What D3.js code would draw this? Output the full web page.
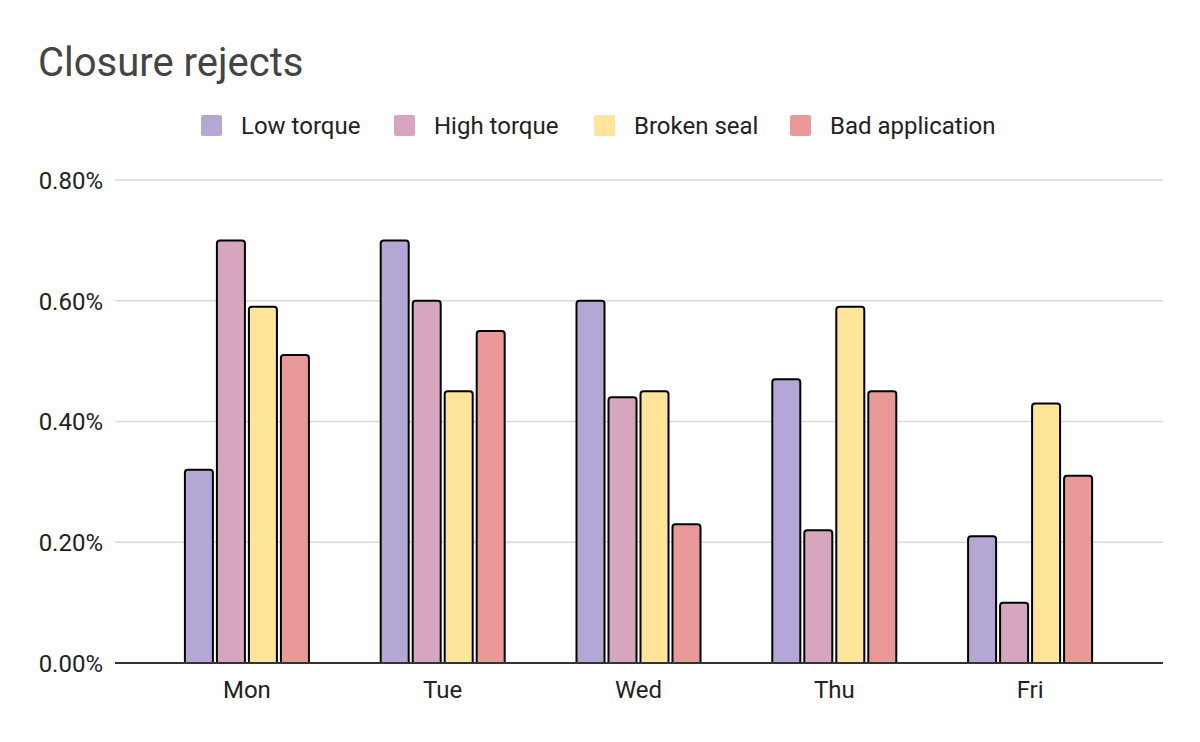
<!DOCTYPE html>
<html><head><meta charset="utf-8">
<script src="https://cdn.jsdelivr.net/npm/d3@7"></script>
<style>body{margin:0;background:#fff}svg{display:block}text{font-family:Roboto,"Noto Sans",sans-serif}</style>
</head><body>
<svg id="c" width="1200" height="742"></svg>
<script>
const categories = ["Mon","Tue","Wed","Thu","Fri"];
const seriesNames = ["Low torque","High torque","Broken seal","Bad application"];
const lowTorque = [0.32,0.70,0.60,0.47,0.21];
const highTorque = [0.70,0.60,0.44,0.22,0.10];
const brokenSeal = [0.59,0.45,0.45,0.59,0.43];
const badApplication = [0.51,0.55,0.23,0.45,0.31];
const colors = ["#b4a7d6","#d5a6bd","#ffe599","#ea9999"];
const yTicks = [0,0.2,0.4,0.6,0.8];
const seriesValues = [lowTorque, highTorque, brokenSeal, badApplication];

const svg = d3.select("#c");
const plotL = 115, plotR = 1163;
const y = d3.scaleLinear().domain([0,0.8]).range([663,180]);
const x0 = d3.scaleBand().domain(categories).range([149,1128]).padding(0);
const x1 = d3.scaleBand().domain(seriesNames).range([-63,63]).paddingInner(0.0625).paddingOuter(0);

svg.append("text").attr("x",38).attr("y",76).style("font-size","40px").attr("fill","#444").text("Closure rejects");

// gridlines
svg.append("g").selectAll("line").data(yTicks.filter(t=>t>0)).join("line")
  .attr("x1",plotL).attr("x2",plotR).attr("y1",d=>y(d)).attr("y2",d=>y(d))
  .attr("stroke","#d9d9d9").attr("stroke-width",1.5);

// y axis
const yAxis = d3.axisLeft(y).tickValues(yTicks).tickFormat(d=>d.toFixed(2)+"%").tickSize(0).tickPadding(12);
const ya = svg.append("g").attr("transform",`translate(${plotL},0)`).call(yAxis);
ya.select(".domain").remove();
ya.attr("font-size",null).attr("font-family",null);
ya.selectAll("text").style("font-size","24px").attr("fill","#222").attr("dy","0.35em");

// bars
const data = [];
categories.forEach((c,i)=>seriesNames.forEach((s,j)=>data.push({c,s,j,v:seriesValues[j][i]})));
const r = 3;
svg.append("g").selectAll("path").data(data).join("path")
  .attr("d",d=>{
    const xl = x0(d.c)+x0.bandwidth()/2 + x1(d.s) + 1;
    const w = x1.bandwidth()-2;
    const yt = y(d.v), yb = y(0);
    const p = d3.path();
    p.moveTo(xl,yb); p.lineTo(xl,yt+r);
    p.quadraticCurveTo(xl,yt,xl+r,yt);
    p.lineTo(xl+w-r,yt);
    p.quadraticCurveTo(xl+w,yt,xl+w,yt+r);
    p.lineTo(xl+w,yb);
    p.closePath();
    return p.toString();
  })
  .attr("fill",d=>colors[d.j]).attr("stroke","#000").attr("stroke-width",2).attr("stroke-linejoin","round");

// x axis line
svg.append("line").attr("x1",plotL).attr("x2",plotR).attr("y1",y(0)).attr("y2",y(0)).attr("stroke","#333").attr("stroke-width",2);

const xAxis = d3.axisBottom(x0).tickSize(0).tickPadding(18);
const xa = svg.append("g").attr("transform",`translate(0,${y(0)})`).call(xAxis);
xa.select(".domain").remove();
xa.attr("font-size",null).attr("font-family",null);
xa.selectAll("text").style("font-size","24px").attr("fill","#222");

// legend
const legX = [201,394,594,790];
const lg = svg.append("g").selectAll("g").data(seriesNames).join("g")
  .attr("transform",(d,i)=>`translate(${legX[i]},115)`);
lg.append("rect").attr("width",21).attr("height",21).attr("rx",2).attr("fill",(d,i)=>colors[i]);
lg.append("text").attr("x",40).attr("y",11).attr("dy","0.35em").style("font-size","24px").attr("fill","#222").text(d=>d);
</script>
</body></html>
